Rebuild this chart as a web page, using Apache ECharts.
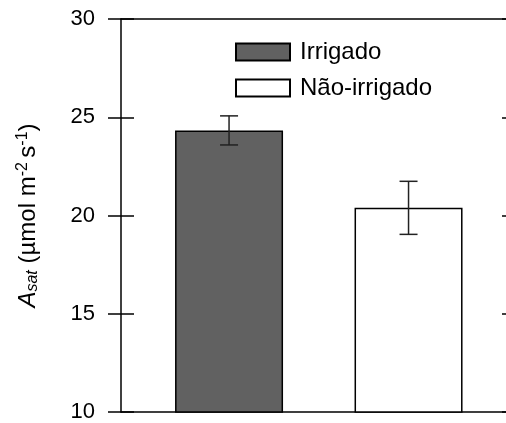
<!DOCTYPE html>
<html>
<head>
<meta charset="utf-8">
<script src="https://cdn.jsdelivr.net/npm/echarts@6/dist/echarts.min.js"></script>
<style>html,body{margin:0;padding:0;background:#fff}#c{width:506px;height:423px}</style>
</head>
<body>
<div id="c"></div>
<script>
var categories = ['Irrigado', 'Não-irrigado'];
var positions = [1, 2];
var means = [24.33, 20.39];
var errors = [0.74, 1.35];
var yTicks = [10, 15, 20, 25, 30];
var colors = ['#616161', '#ffffff'];

var chart = echarts.init(document.getElementById('c'), null, {renderer: 'canvas'});
var FONT = 'Liberation Sans, Arial, sans-serif';
var xMin = 0.398, xMax = 2.543;

var series = categories.map(function (name, i) {
  return {
    name: name,
    type: 'bar',
    xAxisIndex: 0,
    yAxisIndex: 0,
    barWidth: 108,
    barGap: '-100%',
    data: [[positions[i], means[i]]],
    itemStyle: {color: colors[i], borderColor: '#000', borderWidth: 1.5},
    emphasis: {disabled: true},
    z: 2
  };
});

series.push({
  type: 'custom',
  xAxisIndex: 0,
  yAxisIndex: 0,
  data: positions.map(function (p, i) { return [p, means[i] - errors[i], means[i] + errors[i]]; }),
  renderItem: function (params, api) {
    var x = api.value(0);
    var lo = api.coord([x, api.value(1)]);
    var hi = api.coord([x, api.value(2)]);
    var w = 9;
    var style = {stroke: '#222', lineWidth: 1.5};
    return {
      type: 'group',
      children: [
        {type: 'line', shape: {x1: lo[0], y1: lo[1], x2: hi[0], y2: hi[1]}, style: style},
        {type: 'line', shape: {x1: lo[0] - w, y1: lo[1], x2: lo[0] + w, y2: lo[1]}, style: style},
        {type: 'line', shape: {x1: hi[0] - w, y1: hi[1], x2: hi[0] + w, y2: hi[1]}, style: style}
      ]
    };
  },
  z: 5,
  silent: true
});

var yBase = {
  type: 'value', min: yTicks[0], max: yTicks[yTicks.length - 1], interval: 5,
  splitLine: {show: false}
};

chart.setOption({
  animation: false,
  backgroundColor: '#fff',
  grid: {left: 121, top: 19, right: 0, bottom: 10, containLabel: false},
  legend: {
    data: categories,
    orient: 'vertical',
    left: 235, top: 40, padding: 0,
    itemWidth: 54, itemHeight: 17, itemGap: 12,
    icon: 'rect',
    textStyle: {fontFamily: FONT, fontSize: 24, color: '#000', padding: [0, 0, 0, 5]},
    selectedMode: false
  },
  xAxis: [
    {type: 'value', position: 'bottom', min: xMin, max: xMax,
      axisLine: {show: true, onZero: false, lineStyle: {color: '#000', width: 1.5}},
      axisTick: {show: false}, axisLabel: {show: false}, splitLine: {show: false}},
    {type: 'value', position: 'top', min: xMin, max: xMax,
      axisLine: {show: true, onZero: false, lineStyle: {color: '#000', width: 1.5}},
      axisTick: {show: false}, axisLabel: {show: false}, splitLine: {show: false}}
  ],
  yAxis: [
    Object.assign({}, yBase, {
      position: 'left',
      axisLine: {show: true, lineStyle: {color: '#000', width: 1.5}},
      axisTick: {show: true, inside: false, length: 13, lineStyle: {color: '#000', width: 1.5}},
      axisLabel: {show: true, margin: 26, fontFamily: FONT, fontSize: 22, color: '#000'},
      name: '{i|A}{sub|sat} (µmol m{sup|-2 }s{sup|-1})',
      nameLocation: 'middle',
      nameGap: 80,
      nameRotate: 90,
      nameTextStyle: {
        fontFamily: FONT, fontSize: 24, color: '#000',
        rich: {
          i: {fontFamily: FONT, fontSize: 24, fontStyle: 'italic', color: '#000'},
          sub: {fontFamily: FONT, fontSize: 16, fontStyle: 'italic', color: '#000', verticalAlign: 'bottom', padding: [10, 0, 0, 0]},
          sup: {fontFamily: FONT, fontSize: 16, color: '#000', verticalAlign: 'top', padding: [0, 0, 10, 0]}
        }
      }
    }),
    Object.assign({}, yBase, {
      position: 'left',
      axisLine: {show: false},
      axisTick: {show: true, inside: true, length: 13, lineStyle: {color: '#000', width: 1.5}},
      axisLabel: {show: false}
    }),
    Object.assign({}, yBase, {
      position: 'right',
      axisLine: {show: false},
      axisTick: {show: true, inside: true, length: 4, lineStyle: {color: '#000', width: 1.5}},
      axisLabel: {show: false}
    })
  ],
  series: series
});
</script>
</body>
</html>
